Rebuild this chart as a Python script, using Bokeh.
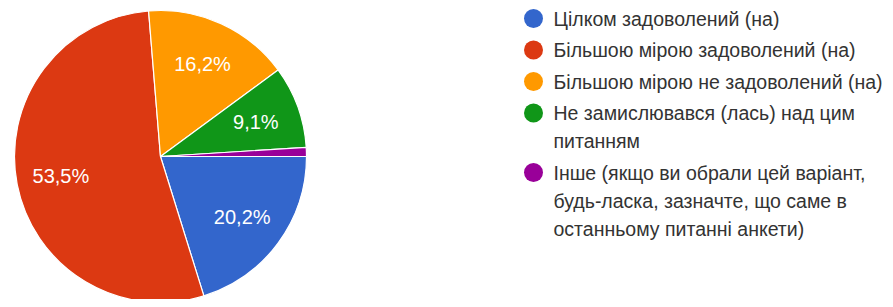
import numpy as np
from bokeh.plotting import figure
from bokeh.models import Range1d, ColumnDataSource
from bokeh.core.properties import value
from bokeh.embed import file_html
from bokeh.resources import INLINE

# ---- data ----
categories = [
    "Цілком задоволений (на)",
    "Більшою мірою задоволений (на)",
    "Більшою мірою не задоволений (на)",
    "Не замислювався (лась) над цим питанням",
    "Інше (якщо ви обрали цей варіант, будь-ласка, зазначте, що саме в останньому питанні анкети)",
]
legend_lines = [
    ["Цілком задоволений (на)"],
    ["Більшою мірою задоволений (на)"],
    ["Більшою мірою не задоволений (на)"],
    ["Не замислювався (лась) над цим", "питанням"],
    ["Інше (якщо ви обрали цей варіант,", "будь-ласка, зазначте, що саме в", "останньому питанні анкети)"],
]
percents = [20.2, 53.5, 16.2, 9.1, 1.0]
pct_labels = ["20,2%", "53,5%", "16,2%", "9,1%", ""]
colors = ["#3366cc", "#dc3912", "#ff9900", "#109618", "#990099"]

# ---- layout (screen-pixel coordinates, y = 307 - screen_y) ----
W, H = 885, 299
p = figure(width=W, height=H, output_backend="svg", toolbar_location=None,
           x_range=Range1d(0, W), y_range=Range1d(307 - H, 307),
           min_border=0, outline_line_color=None)
p.axis.visible = False
p.grid.visible = False
p.background_fill_color = "white"
p.border_fill_color = "white"

cx, cy, R = 160, 307 - 156, 146
frac = np.array(percents) / sum(percents)
cum = np.concatenate([[0], np.cumsum(frac)])
start = -2 * np.pi * cum[1:]
end = -2 * np.pi * cum[:-1]
src = ColumnDataSource(dict(start=start, end=end, color=colors))
p.wedge(x=cx, y=cy, radius=R, start_angle="start", end_angle="end",
        fill_color="color", line_color="white", line_width=1.2, source=src)

mid = -2 * np.pi * (cum[:-1] + frac / 2)
lr = R * 0.695
lsrc = ColumnDataSource(dict(x=cx + lr * np.cos(mid), y=cy + lr * np.sin(mid), t=pct_labels))
p.text(x="x", y="y", text="t", source=lsrc, text_color="white",
       text_font=value("Liberation Sans"), text_font_size="20px",
       text_align="center", text_baseline="middle")

# legend
lx_dot, lx_text = 533, 553
y = 307 - 18
dots_x, dots_y, dcol = [], [], []
tx, ty, tt = [], [], []
for i, lines in enumerate(legend_lines):
    dots_x.append(lx_dot); dots_y.append(y); dcol.append(colors[i])
    for j, ln in enumerate(lines):
        tx.append(lx_text); ty.append(y); tt.append(ln)
        if j < len(lines) - 1:
            y -= 28
    y -= 31.5
p.scatter(x=dots_x, y=dots_y, size=19, color=dcol, line_color=None)
p.text(x=tx, y=ty, text=tt, text_color="#333333",
       text_font=value("Liberation Sans"), text_font_size="19.5px",
       text_align="left", text_baseline="middle")

open("out.html", "w").write(file_html(p, INLINE))
